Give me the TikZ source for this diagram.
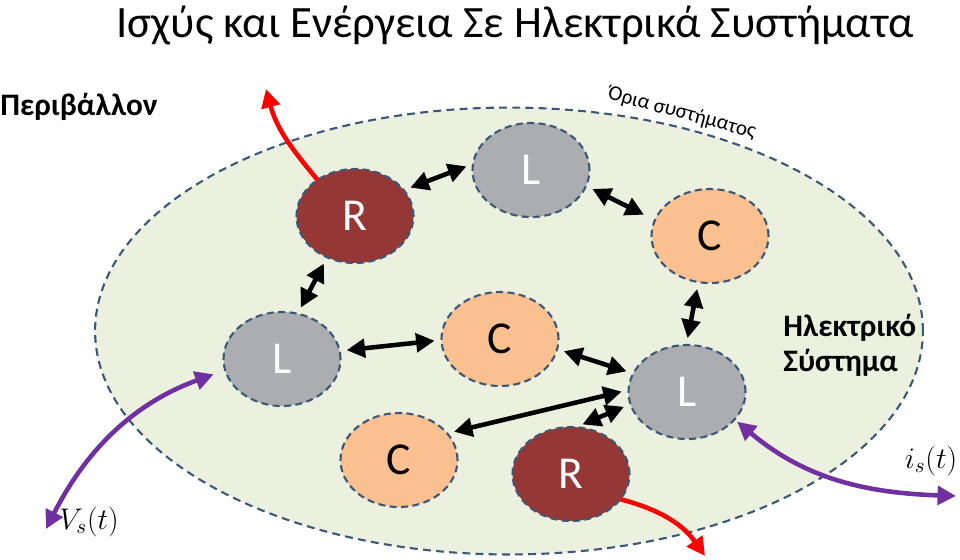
\RequirePackage{fix-cm}
\documentclass[tikz,border=0pt]{standalone}
\usepackage{fontspec}
\setmainfont{Carlito}
\usetikzlibrary{arrows.meta,shapes.geometric}
\definecolor{sysfill}{RGB}{235,241,222}
\definecolor{sysline}{RGB}{60,88,120}
\definecolor{resred}{RGB}{149,55,53}
\definecolor{indgray}{RGB}{172,173,176}
\definecolor{caporange}{RGB}{250,192,144}
\definecolor{portpurple}{RGB}{112,48,160}

\begin{document}
\begin{tikzpicture}[x=0.02cm,y=-0.02cm,>={Triangle[length=10.5pt,width=10.5pt]},
  part/.style={ellipse,draw=sysline,line width=1.2pt,dash pattern=on 4pt off 2.5pt,minimum width=2.34cm,minimum height=1.88cm,inner sep=0pt,outer sep=0pt,font=\fontsize{26}{30}\selectfont},
  resnode/.style={part,fill=resred,text=white},
  indnode/.style={part,fill=indgray,text=white},
  capnode/.style={part,fill=caporange,text=black},
  flow/.style={<->,line width=2.6pt,shorten <=4pt,shorten >=4pt},
  heat/.style={->,red,line width=2.6pt},
  port/.style={<->,portpurple,line width=2.6pt},
  sig/.style={font=\fontsize{17}{20}\selectfont,inner sep=0pt}]
\useasboundingbox (0,0) rectangle (960,559);
% system boundary
\filldraw[fill=sysfill,draw=sysline,line width=1.2pt,dash pattern=on 4.5pt off 3pt] (509,331) ellipse [x radius=8.28cm,y radius=4.47cm];
\node[font=\fontsize{25.5}{30}\selectfont,anchor=base] (title) at (515,37) {Ισχύς και Ενέργεια Σε Ηλεκτρικά Συστήματα};
\node[font=\bfseries\fontsize{17.8}{20}\selectfont,anchor=base west,inner sep=0pt] (env) at (0,115) {Περιβάλλον};
\node[font=\fontsize{12}{14}\selectfont,rotate=-15,inner sep=0pt] (bound) at (682,113) {Όρια συστήματος};
\node[font=\bfseries\fontsize{17.8}{20}\selectfont,align=left,anchor=west,inner sep=0pt] (sysName) at (783,345) {Ηλεκτρικό\\Σύστημα};
% elements
\node[resnode] (rTop) at (355,216) {R};
\node[indnode] (lTop) at (531,170) {L};
\node[capnode] (cRight) at (710,236) {C};
\node[indnode] (lLeft) at (282,359) {L};
\node[capnode] (cMid) at (500,339) {C};
\node[indnode] (lRight) at (687,392) {L};
\node[capnode] (cLow) at (399,460) {C};
\node[resnode] (rLow) at (571,474) {R};
% exchanges
\draw[flow] (rTop.28) -- (lTop.174);
\draw[flow,shorten >=7pt] (lTop.-16) -- (cRight.164);
\draw[flow] (rTop.236) -- (lLeft.71);
\draw[flow] (lLeft.8) -- (cMid.181);
\draw[flow] (cMid.-10) -- (lRight.161);
\draw[flow] (cRight.256) -- (lRight.91);
\draw[flow] (cLow.29) -- (lRight.178);
\draw[flow] (rLow.84) -- (lRight.192);
% losses
\coordinate (heatUp) at (266,89);
\coordinate (heatDown) at (705,556);
\draw[heat] (rTop.136) to[out=130,in=-75] (heatUp);
\draw[heat] (rLow.-27) to[out=-15,in=125] (heatDown);
% sources
\node[sig] (vsLabel) at (89,522) {$V_s(t)$};
\node[sig] (isLabel) at (931,461) {$i_s(t)$};
\coordinate (vsEnd) at (46,529);
\coordinate (isEnd) at (956,496);
\draw[port,shorten <=7pt] (lLeft.191) to[out=200,in=63] (vsEnd);
\draw[port,shorten <=2pt] (lRight.-30) to[out=-40,in=178] (isEnd);
\end{tikzpicture}
\end{document}
